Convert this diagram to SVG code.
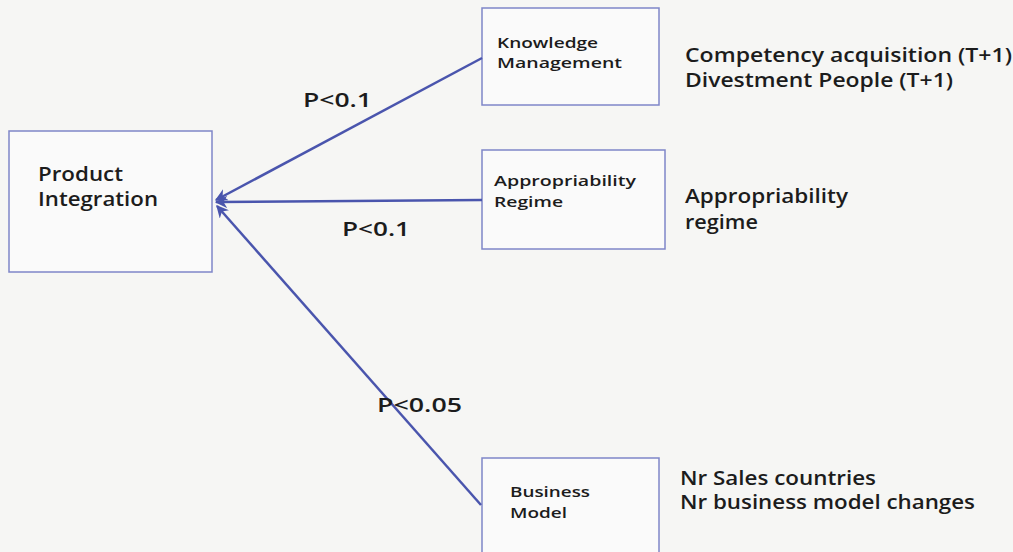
<svg xmlns="http://www.w3.org/2000/svg" width="1013" height="552" viewBox="0 0 1013 552">
  <defs>
    <marker id="arrow" viewBox="0 0 10 10" refX="9" refY="5" markerWidth="5" markerHeight="5" orient="auto" markerUnits="strokeWidth">
      <path d="M0,0 L10,5 L0,10 L3,5 Z" fill="#4a55ad"/>
    </marker>
    <style>
      .box { fill: #fafafa; stroke: #7f86c8; stroke-width: 1.5; }
      .link { stroke: #4a55ad; stroke-width: 2.5; fill: none; marker-end: url(#arrow); }
      text { font-family: "Open Sans", "Liberation Sans", sans-serif; fill: #1c1c1c; font-weight: 600; }
      .big { font-size: 19px; }
      .small { font-size: 15px; }
      .label { font-size: 19px; }
    </style>
  </defs>

  <rect width="1013" height="552" fill="#f6f6f4"/>

  <g id="node-product-integration">
    <rect class="box" x="9" y="131" width="203" height="141"/>
    <text class="big" x="38" y="181" textLength="85" lengthAdjust="spacingAndGlyphs">Product</text>
    <text class="big" x="38" y="206" textLength="120" lengthAdjust="spacingAndGlyphs">Integration</text>
  </g>

  <g id="node-knowledge-management">
    <rect class="box" x="482" y="8" width="177" height="97"/>
    <text class="small" x="497" y="48" textLength="101" lengthAdjust="spacingAndGlyphs">Knowledge</text>
    <text class="small" x="497" y="68" textLength="125" lengthAdjust="spacingAndGlyphs">Management</text>
  </g>
  <g id="measures-knowledge-management">
    <text class="big" x="685" y="62" textLength="327" lengthAdjust="spacingAndGlyphs">Competency acquisition (T+1)</text>
    <text class="big" x="685" y="87" textLength="268" lengthAdjust="spacingAndGlyphs">Divestment People (T+1)</text>
  </g>

  <g id="node-appropriability-regime">
    <rect class="box" x="482" y="150" width="183" height="99"/>
    <text class="small" x="494" y="186" textLength="142" lengthAdjust="spacingAndGlyphs">Appropriability</text>
    <text class="small" x="494" y="207" textLength="69" lengthAdjust="spacingAndGlyphs">Regime</text>
  </g>
  <g id="measures-appropriability-regime">
    <text class="big" x="685" y="203" textLength="163" lengthAdjust="spacingAndGlyphs">Appropriability</text>
    <text class="big" x="685" y="229" textLength="73" lengthAdjust="spacingAndGlyphs">regime</text>
  </g>

  <g id="node-business-model">
    <rect class="box" x="482" y="458" width="177" height="110"/>
    <text class="small" x="510" y="497" textLength="80" lengthAdjust="spacingAndGlyphs">Business</text>
    <text class="small" x="510" y="518" textLength="57" lengthAdjust="spacingAndGlyphs">Model</text>
  </g>
  <g id="measures-business-model">
    <text class="big" x="680" y="485" textLength="196" lengthAdjust="spacingAndGlyphs">Nr Sales countries</text>
    <text class="big" x="680" y="509" textLength="295" lengthAdjust="spacingAndGlyphs">Nr business model changes</text>
  </g>

  <g id="connectors">
    <line class="link" x1="482" y1="58" x2="216" y2="200"/>
    <line class="link" x1="482" y1="200" x2="216" y2="202"/>
    <line class="link" x1="481" y1="505" x2="217" y2="206"/>
    <text class="label" x="303" y="107" textLength="69" lengthAdjust="spacingAndGlyphs">P&lt;0.1</text>
    <text class="label" x="342" y="236" textLength="68" lengthAdjust="spacingAndGlyphs">P&lt;0.1</text>
    <text class="label" x="377" y="412" textLength="85" lengthAdjust="spacingAndGlyphs">P&lt;0.05</text>
  </g>
</svg>
